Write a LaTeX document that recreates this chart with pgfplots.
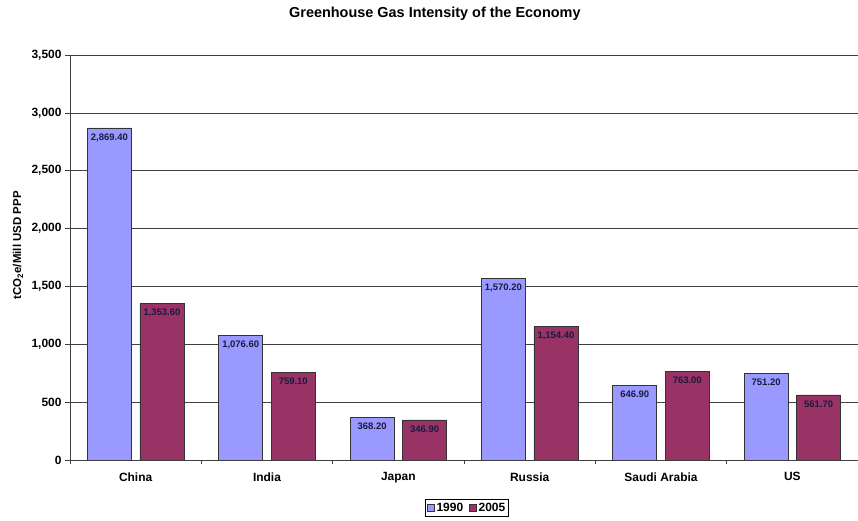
\documentclass[border=0pt]{standalone}
\usepackage{pgfplots}
\pgfplotsset{compat=1.18}
\usepackage{fontspec}
\setmainfont{Liberation Sans}
\definecolor{cA}{HTML}{9999FF}
\definecolor{cB}{HTML}{993366}
\definecolor{lbl}{HTML}{1A1A40}
\begin{document}
\begin{tikzpicture}[x=1bp,y=1bp]
\path[use as bounding box] (-70,-61) rectangle (788,460);
\begin{axis}[
  at={(0,0)}, anchor=south west,
  scale only axis, width=788bp, height=405bp,
  xmin=-0.5, xmax=5.5, ymin=0, ymax=3500,
  ybar, bar width=0.335,
  axis x line*=bottom, axis y line*=left,
  axis line style={black!75, line width=0.6pt},
  ymajorgrids, grid style={black!75, line width=0.6pt},
  ytick={0,500,...,3500},
  xtick={0,...,5},
  xticklabels={China,India,Japan,Russia,Saudi Arabia,US},
  major x tick style={draw=none},
  minor xtick={-0.5,0.5,...,5.5},
  minor tick length=4bp,
  major tick length=5bp,
  tick align=outside,
  tick style={black!75, line width=0.6pt},
  ticklabel style={font=\fontsize{12}{14}\selectfont\bfseries},
  xticklabel style={yshift=-4bp},
  yticklabel style={/pgf/number format/.cd, 1000 sep={,}, assume math mode=true},
  ylabel={tCO\textsubscript{2}e/Mill USD PPP},
  ylabel style={at={(axis description cs:-0.066,0.53)}, anchor=center, font=\fontsize{11.5}{13}\selectfont\bfseries},
  every axis title shift=0pt,
  title={Greenhouse Gas Intensity of the Economy},
  title style={at={(axis description cs:0.463,1.101)}, anchor=center, font=\fontsize{14.5}{17}\selectfont\bfseries},
  nodes near coords={\pgfmathprintnumber[fixed,fixed zerofill,precision=2,1000 sep={,},assume math mode=true]{\pgfplotspointmeta}},
  every node near coord/.append style={anchor=north, font=\fontsize{9.5}{11}\selectfont\bfseries, text=lbl, yshift=-2bp},
  legend style={at={(axis description cs:0.504,-0.1185)}, anchor=center, legend columns=2, draw=black, line width=0.6pt,
    font=\fontsize{12}{14}\selectfont\bfseries, inner sep=1.5bp,
    /tikz/every even column/.append style={column sep=4bp}},
  legend image code/.code={\draw[#1, line width=0.5pt] (0bp,-3.5bp) rectangle (7bp,3.5bp);},
]
\addplot[fill=cA, draw=black!80, line width=0.6pt, bar shift=-0.2] coordinates {(0,2869.4) (1,1076.6) (2,368.2) (3,1570.2) (4,646.9) (5,751.2)};
\addplot[fill=cB, draw=black!80, line width=0.6pt, bar shift=0.2] coordinates {(0,1353.6) (1,759.1) (2,346.9) (3,1154.4) (4,763.0) (5,561.7)};
\legend{1990,2005}
\end{axis}
\end{tikzpicture}
\end{document}
